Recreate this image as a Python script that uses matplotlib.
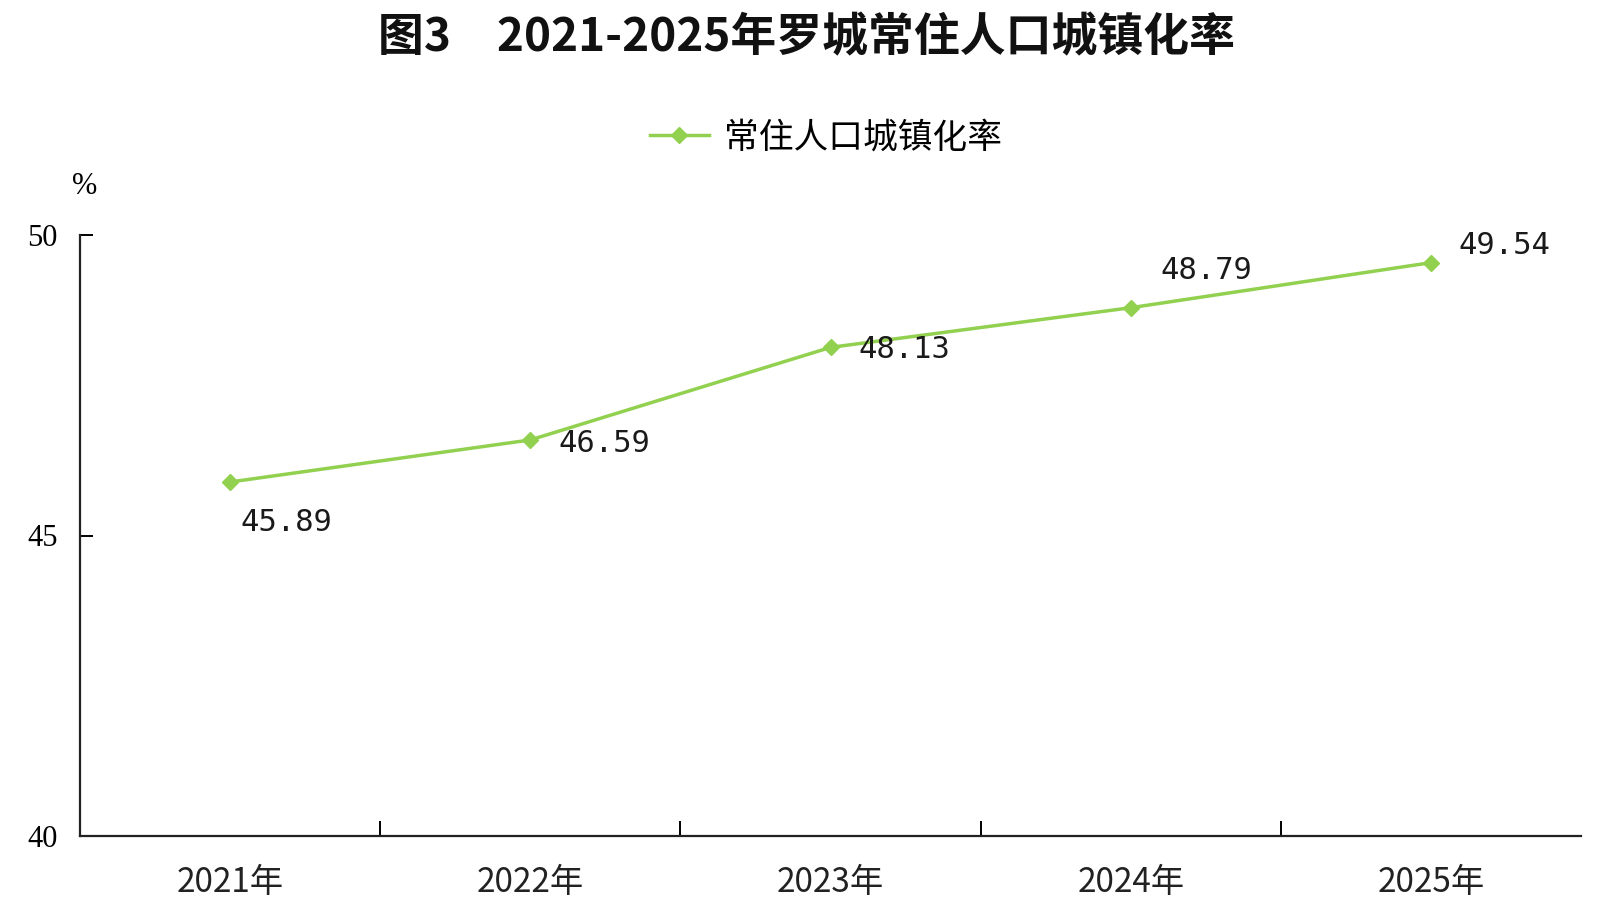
import matplotlib
matplotlib.use("Agg")
import matplotlib.pyplot as plt

plt.rcParams['font.family'] = ['Noto Sans CJK SC', 'DejaVu Sans']

years = ["2021年", "2022年", "2023年", "2024年", "2025年"]
rates = [45.89, 46.59, 48.13, 48.79, 49.54]
label_offsets = [(10, -40), (28, -4), (28, -2), (30, 37), (28, 17)]
yticks = [40, 45, 50]

fig = plt.figure(figsize=(16.05, 9.17), dpi=100)
ax = fig.add_axes([80/1605, 81/917, (1581-80)/1605, (836-235)/917])

color = "#92D050"
x = list(range(len(years)))
ax.plot(x, rates, color=color, lw=2.5, marker="D", ms=8, label="常住人口城镇化率")

for xi, v, (dx, dy) in zip(x, rates, label_offsets):
    ax.annotate(f"{v:.2f}", (xi, v), xytext=(dx, dy), textcoords="offset pixels",
                ha="left", va="center", fontsize=22, color="#1a1a1a",
                family=["DejaVu Sans Mono"])

ax.set_xlim(-0.5, len(years) - 0.5)
ax.set_ylim(40, 50)
ax.set_yticks(yticks)
ax.set_yticklabels([str(t) for t in yticks], fontsize=22, family=["Liberation Serif"])
ax.set_xticks([i + 0.5 for i in range(len(years) - 1)])
ax.set_xticklabels([])
ax.set_xticks(x, minor=True)
ax.set_xticklabels(years, minor=True, fontsize=24, color="#222222")
ax.tick_params(axis='x', which='major', direction='in', length=11, width=1.4)
ax.tick_params(axis='x', which='minor', length=0, pad=21)
ax.tick_params(axis='y', direction='in', length=9, width=1.4, pad=16)

for s in ["top", "right"]:
    ax.spines[s].set_visible(False)
for s in ["left", "bottom"]:
    ax.spines[s].set_linewidth(1.6)
    ax.spines[s].set_color("#222222")

fig.text(85/1605, 1 - 186/917, "%", ha="center", va="center", fontsize=22,
         family=["Liberation Serif"])
fig.text(806/1605, 1 - 38/917, "图3　2021-2025年罗城常住人口城镇化率", ha="center", va="center",
         fontsize=33, fontweight="bold", color="#111111")
fig.legend(loc="center", bbox_to_anchor=(826/1605, 1 - 138/917), frameon=False, fontsize=25,
           handlelength=1.7, handletextpad=0.45)

fig.savefig("out.png", dpi=100, facecolor="white")
